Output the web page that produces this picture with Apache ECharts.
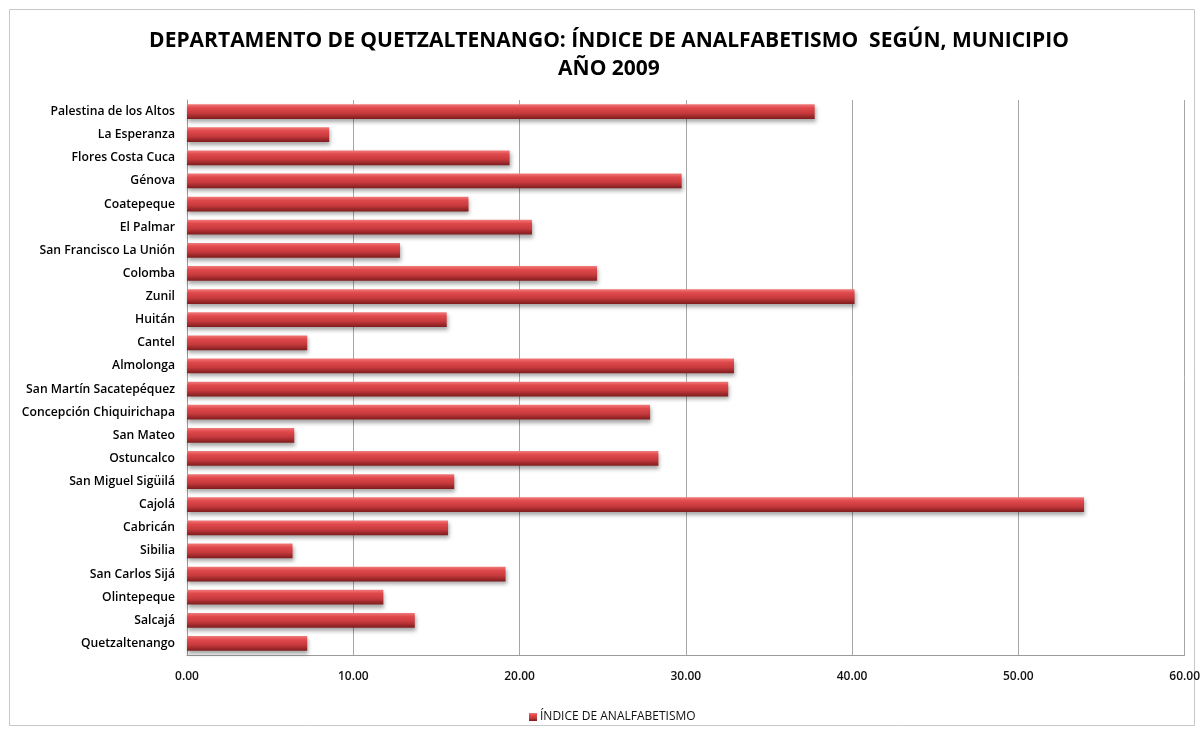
<!DOCTYPE html>
<html>
<head>
<meta charset="utf-8">
<script src="https://cdn.jsdelivr.net/npm/echarts@6/dist/echarts.min.js"></script>
<style>
html,body{margin:0;padding:0;background:#fff;}
#chart{width:1203px;height:730px;}
</style>
</head>
<body>
<div id="chart"></div>
<script>
const titleText = 'DEPARTAMENTO DE QUETZALTENANGO: ÍNDICE DE ANALFABETISMO  SEGÚN, MUNICIPIO\nAÑO 2009';
const seriesName = 'ÍNDICE DE ANALFABETISMO';
const municipios = [
  'Quetzaltenango', 'Salcajá', 'Olintepeque', 'San Carlos Sijá', 'Sibilia', 'Cabricán',
  'Cajolá', 'San Miguel Sigüilá', 'Ostuncalco', 'San Mateo', 'Concepción Chiquirichapa',
  'San Martín Sacatepéquez', 'Almolonga', 'Cantel', 'Huitán', 'Zunil', 'Colomba',
  'San Francisco La Unión', 'El Palmar', 'Coatepeque', 'Génova', 'Flores Costa Cuca',
  'La Esperanza', 'Palestina de los Altos'
];
const indice = [
  7.23, 13.70, 11.81, 19.16, 6.35, 15.70,
  53.95, 16.07, 28.35, 6.45, 27.85,
  32.55, 32.90, 7.23, 15.62, 40.15, 24.66,
  12.81, 20.75, 16.93, 29.75, 19.40,
  8.55, 37.75
];
const xTicks = [0, 10, 20, 30, 40, 50, 60];

const chart = echarts.init(document.getElementById('chart'));
const barColor = new echarts.graphic.LinearGradient(0, 0, 0, 1, [
  {offset: 0, color: '#f27a7a'},
  {offset: 0.25, color: '#e0494c'},
  {offset: 0.6, color: '#c73a3d'},
  {offset: 1, color: '#7e1c1e'}
]);
chart.setOption({
  backgroundColor: '#fff',
  animation: false,
  graphic: [{
    type: 'rect',
    shape: {x: 9.5, y: 9.5, width: 1185, height: 716},
    style: {fill: 'none', stroke: '#c8c8c8', lineWidth: 1},
    silent: true
  }],
  title: {
    text: titleText,
    left: 604,
    textAlign: 'center',
    top: 22,
    textStyle: {
      fontFamily: 'Open Sans',
      fontWeight: 'bold',
      fontSize: 21,
      lineHeight: 28,
      color: '#000'
    }
  },
  legend: {
    data: [seriesName],
    left: 524,
    top: 706,
    itemWidth: 8,
    itemHeight: 8,
    itemGap: 4,
    icon: 'rect',
    textStyle: {fontFamily: 'Open Sans', fontSize: 12, color: '#111', padding: [0, 0, 0, -2]},
    formatter: n => n
  },
  grid: {left: 187, right: 17, top: 100, bottom: 75, containLabel: false},
  xAxis: {
    type: 'value',
    min: xTicks[0],
    max: xTicks[xTicks.length - 1],
    interval: 10,
    axisLine: {show: true, lineStyle: {color: '#9a9a9a'}},
    axisTick: {show: false},
    splitLine: {show: true, lineStyle: {color: '#a6a6a6', width: 1}},
    axisLabel: {
      margin: 16,
      fontFamily: 'Open Sans',
      fontSize: 12,
      fontWeight: 600,
      color: '#111',
      formatter: v => v.toFixed(2)
    }
  },
  yAxis: {
    type: 'category',
    data: municipios,
    axisLine: {show: true, lineStyle: {color: '#9a9a9a'}},
    axisTick: {show: false},
    axisLabel: {
      margin: 12,
      fontFamily: 'Open Sans',
      fontSize: 12.2,
      fontWeight: 600,
      color: '#000'
    }
  },
  series: [{
    name: seriesName,
    type: 'bar',
    data: indice,
    barWidth: '64%',
    itemStyle: {
      color: barColor,
      shadowColor: 'rgba(0,0,0,0.35)',
      shadowBlur: 4,
      shadowOffsetX: 1,
      shadowOffsetY: 3
    }
  }]
});
</script>
</body>
</html>
